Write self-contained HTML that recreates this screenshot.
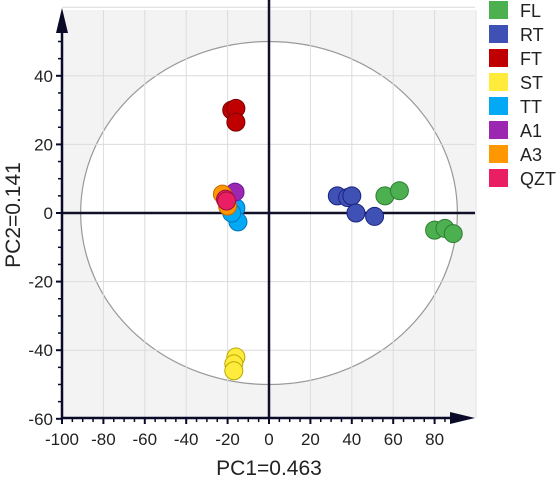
<!DOCTYPE html>
<html><head><meta charset="utf-8"><style>
body{margin:0;background:#fff;}
svg{display:block;font-family:"Liberation Sans",sans-serif;}
</style></head><body>
<svg id="chart" width="560" height="481"></svg>
<script>
const groups=["FL","RT","FT","ST","TT","A1","A3","QZT"];
const colors=["#4caf50","#3f51b5","#c00000","#ffeb3b","#03a9f4","#9c27b0","#ff9800","#e91e63"];
const strokes=["#2e7d32","#1a237e","#7a0000","#b8a800","#0277bd","#6a1b9a","#c66900","#a0103e"];
const pc1FL=[56,63,80,85,89], pc2FL=[5,6.5,-5,-4.5,-6];
const pc1RT=[33,38,40,42,51], pc2RT=[5,4.5,5,0,-1];
const pc1FT=[-18,-16,-16], pc2FT=[30,30.5,26.5];
const pc1ST=[-16,-17,-17], pc2ST=[-42,-44,-46];
const pc1TT=[-16,-15,-18], pc2TT=[1.5,-2.6,0];
const pc1A1=[-16.4], pc2A1=[6.1];
const pc1A3=[-22.5,-20,-21], pc2A3=[5.5,2,4];
const pc1QZT=[-21,-20.5], pc2QZT=[4,3.5];
const xTicks=[-100,-80,-60,-40,-20,0,20,40,60,80];
const yTicks=[-60,-40,-20,0,20,40];
const NS="http://www.w3.org/2000/svg";
const svg=document.getElementById("chart");
const X=v=>269+v*2.07, Y=v=>213-v*3.43;
function mk(tag,a,parent){const e=document.createElementNS(NS,tag);for(const k in a)e.setAttribute(k,a[k]);(parent||svg).appendChild(e);return e;}
let e;
e=mk("rect",{x:62,y:10,width:413,height:408,fill:"#f3f3f3"});


e=mk("ellipse",{cx:X(0),cy:Y(0),rx:91*2.07,ry:50*3.43,fill:"#fff",stroke:"#999","stroke-width":1.2});


for(let v=-80;v<=100;v+=20){if(v===0)continue;e=mk("line",{x1:X(v),x2:X(v),y1:10,y2:418,stroke:"#dcdcdc","stroke-width":1});

}
for(let v=-40;v<=60;v+=20){if(v===0)continue;e=mk("line",{x1:62,x2:475,y1:Y(v),y2:Y(v),stroke:"#dcdcdc","stroke-width":1});

}
e=mk("line",{x1:X(0),x2:X(0),y1:0,y2:418,stroke:"#101028","stroke-width":2.5});


e=mk("line",{x1:62,x2:475,y1:Y(0),y2:Y(0),stroke:"#101028","stroke-width":2.5});


const allX=[pc1FL,pc1RT,pc1FT,pc1ST,pc1TT,pc1A1,pc1A3,pc1QZT];
const allY=[pc2FL,pc2RT,pc2FT,pc2ST,pc2TT,pc2A1,pc2A3,pc2QZT];
groups.forEach((g,i)=>{allX[i].forEach((xv,j)=>{
e=mk("circle",{cx:X(xv),cy:Y(allY[i][j]),r:9,fill:colors[i],stroke:strokes[i],"stroke-width":1});

});});
e=mk("line",{x1:62,x2:62,y1:20,y2:419,stroke:"#0a0a28","stroke-width":2.5});


e=mk("polygon",{points:"56,33 62,8 68,33",fill:"#0a0a28"});


e=mk("line",{x1:61,x2:462,y1:418,y2:418,stroke:"#0a0a28","stroke-width":2.5});


e=mk("polygon",{points:"450,412 475,418 450,424",fill:"#0a0a28"});


for(let v=-60;v<=55;v+=5){const maj=v%20===0;e=mk("line",{x1:maj?56:58,x2:62,y1:Y(v),y2:Y(v),stroke:"#0a0a28","stroke-width":maj?2:1.5});

}
for(let v=-100;v<=90;v+=5){const maj=v%20===0;e=mk("line",{x1:X(v),x2:X(v),y1:418,y2:maj?424:422,stroke:"#0a0a28","stroke-width":maj?2:1.5});

}
yTicks.forEach(v=>{e=mk("text",{x:53,y:Y(v)+6,"text-anchor":"end","font-size":17,fill:"#222"});e.textContent=v;

});
xTicks.forEach(v=>{e=mk("text",{x:X(v),y:445,"text-anchor":"middle","font-size":17,fill:"#222"});e.textContent=v;

});
e=mk("text",{x:X(0),y:475,"text-anchor":"middle","font-size":21,fill:"#222"});e.textContent="PC1=0.463";


e=mk("text",{x:0,y:0,"text-anchor":"middle","font-size":21,fill:"#222",transform:"translate(20,215) rotate(-90)"});e.textContent="PC2=0.141";


groups.forEach((g,i)=>{
e=mk("rect",{x:489,y:1+i*24,width:19,height:18,fill:colors[i]});


e=mk("text",{x:520,y:17+i*24,"font-size":18,fill:"#222"});e.textContent=g;

});
</script>
</body></html>
